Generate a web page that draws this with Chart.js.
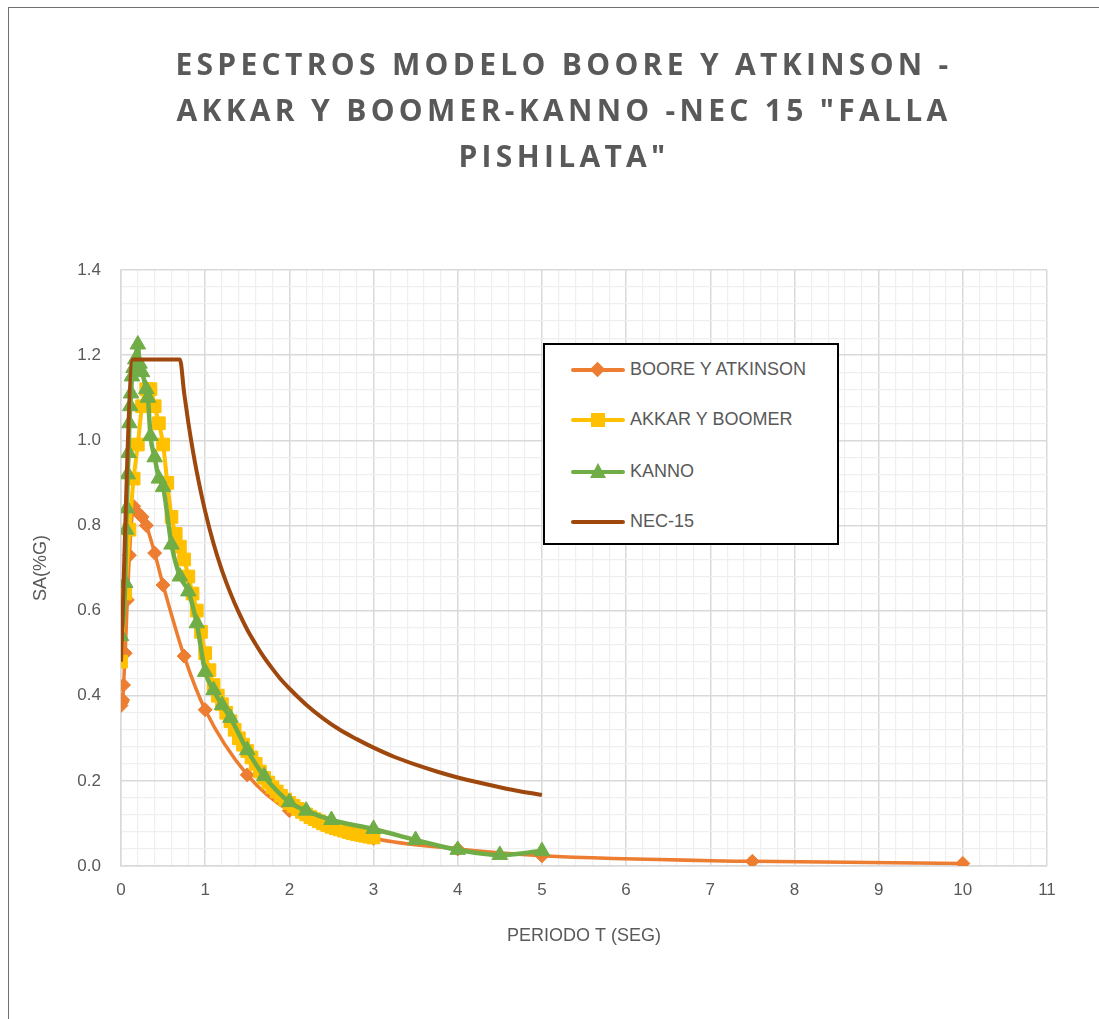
<!DOCTYPE html>
<html>
<head>
<meta charset="utf-8">
<title>Espectros Falla Pishilata</title>
<script src="https://cdn.jsdelivr.net/npm/chart.js@4.4.0/dist/chart.umd.min.js"></script>
<style>
  body { margin: 0; background: #fff; }
  #wrap { position: relative; width: 1099px; height: 1019px; overflow: hidden; }
  #frame { position: absolute; left: 8px; top: 7px; width: 1200px; height: 1100px;
           border-left: 1px solid #6f6f6f; border-top: 1px solid #6f6f6f; }
  #chart { position: absolute; left: 0; top: 0; }
  #title { position: absolute; left: 160px; width: 800px; top: 41px; text-align: center;
           font-family: "Open Sans", sans-serif; font-weight: bold; font-size: 30px;
           line-height: 46px; letter-spacing: 4.3px; color: #595959; padding-left: 4px; }
  #legend { position: absolute; left: 543px; top: 343px; width: 292px; height: 198px;
            border: 2px solid #000; background: #fff; }
  .item { position: absolute; left: 26px; height: 20px; }
  .item .ln { position: absolute; left: 0; top: 8px; width: 54px; height: 4px; border-radius: 2px; }
  .item .mk { position: absolute; }
  .item .tx { position: absolute; left: 59px; top: -1px; white-space: nowrap;
              font-family: "Liberation Sans", Arial, sans-serif; font-size: 18px; color: #595959; }
</style>
</head>
<body>
<div id="wrap">
  <div id="frame"></div>
  <canvas id="chart" width="1099" height="1019"></canvas>
  <div id="title">ESPECTROS MODELO BOORE Y ATKINSON -<br>AKKAR Y BOOMER-KANNO -NEC 15 "FALLA<br>PISHILATA"</div>
  <div id="legend"></div>
</div>
<script>
// Boore y Atkinson
const baPeriod = [0, 0.01, 0.02, 0.03, 0.05, 0.075, 0.1, 0.15, 0.2, 0.25, 0.3, 0.4, 0.5, 0.75, 1, 1.5, 2, 3, 4, 5, 7.5, 10];
const baSa = [0.377, 0.385, 0.39, 0.425, 0.50, 0.625, 0.73, 0.845, 0.83, 0.82, 0.80, 0.735, 0.66, 0.493, 0.367, 0.214, 0.13, 0.065, 0.04, 0.024, 0.011, 0.006];

// Akkar y Boomer
const abPeriod = [0, 0.05, 0.1, 0.15, 0.2, 0.25, 0.3, 0.35, 0.4, 0.45, 0.5, 0.55, 0.6, 0.65, 0.7, 0.75, 0.8, 0.85, 0.9, 0.95,
  1, 1.05, 1.1, 1.15, 1.2, 1.25, 1.3, 1.35, 1.4, 1.45, 1.5, 1.55, 1.6, 1.65, 1.7, 1.75, 1.8, 1.85, 1.9, 1.95,
  2, 2.05, 2.1, 2.15, 2.2, 2.25, 2.3, 2.35, 2.4, 2.45, 2.5, 2.55, 2.6, 2.65, 2.7, 2.75, 2.8, 2.85, 2.9, 2.95, 3];
const abSa = [0.48, 0.64, 0.79, 0.91, 0.99, 1.08, 1.12, 1.12, 1.08, 1.04, 0.99, 0.90, 0.82, 0.78, 0.75, 0.72, 0.68, 0.64, 0.60, 0.55,
  0.50, 0.46, 0.425, 0.40, 0.38, 0.36, 0.34, 0.32, 0.30, 0.285, 0.27, 0.255, 0.24, 0.222, 0.207, 0.196, 0.185, 0.175, 0.165, 0.156,
  0.148, 0.141, 0.134, 0.127, 0.121, 0.115, 0.110, 0.105, 0.100, 0.096, 0.092, 0.089, 0.086, 0.083, 0.080, 0.077, 0.075, 0.073, 0.071, 0.069, 0.067];

// Kanno
const kanPeriod = [0, 0.05, 0.06, 0.07, 0.08, 0.09, 0.1, 0.11, 0.12, 0.13, 0.15, 0.17, 0.2, 0.22, 0.25, 0.3, 0.32, 0.35, 0.4, 0.45,
  0.5, 0.6, 0.7, 0.8, 0.9, 1, 1.1, 1.2, 1.3, 1.5, 1.7, 2, 2.2, 2.5, 3, 3.5, 4, 4.5, 5];
const kanSa = [0.54, 0.665, 0.79, 0.84, 0.92, 0.97, 1.04, 1.08, 1.11, 1.15, 1.17, 1.19, 1.225, 1.18, 1.16, 1.12, 1.10, 1.01, 0.96, 0.91,
  0.89, 0.755, 0.68, 0.645, 0.57, 0.456, 0.413, 0.378, 0.348, 0.272, 0.211, 0.150, 0.13, 0.108, 0.087, 0.061, 0.038, 0.026, 0.035];

// NEC-15
const necPeriod = [0, 0.14, 0.7, 0.75, 0.8, 0.85, 0.9, 1, 1.1, 1.2, 1.3, 1.4, 1.5, 1.6, 1.7, 1.8, 1.9, 2, 2.2, 2.4, 2.6, 2.8,
  3, 3.25, 3.5, 3.75, 4, 4.25, 4.5, 4.75, 5];
const necSa = [0.48, 1.19, 1.19, 1.111, 1.041, 0.98, 0.926, 0.833, 0.757, 0.694, 0.641, 0.595, 0.555, 0.521, 0.49, 0.463, 0.438, 0.417,
  0.379, 0.347, 0.32, 0.298, 0.278, 0.256, 0.238, 0.222, 0.208, 0.196, 0.185, 0.175, 0.167];

const seriesNames = ['BOORE Y ATKINSON', 'AKKAR Y BOOMER', 'KANNO', 'NEC-15'];
const seriesColors = ['#ED7D31', '#FFC000', '#70AD47', '#9E480E'];

const xMax = 11;
const yMax = 1.4;
const textGray = '#595959';

function toPoints(xs, ys) {
  return xs.map((x, i) => ({ x: x, y: ys[i] }));
}

function isMajorX(v) { return Math.abs(v - Math.round(v)) < 1e-6; }
function isMajorY(v) { return Math.abs(v * 5 - Math.round(v * 5)) < 1e-6; }

const datasets = [
  { label: seriesNames[0], data: toPoints(baPeriod, baSa), borderColor: seriesColors[0], backgroundColor: seriesColors[0],
    borderWidth: 3.5, pointStyle: 'rectRot', pointRadius: 7, order: 3 },
  { label: seriesNames[1], data: toPoints(abPeriod, abSa), borderColor: seriesColors[1], backgroundColor: seriesColors[1],
    borderWidth: 4, pointStyle: 'rect', pointRadius: 9, order: 2 },
  { label: seriesNames[2], data: toPoints(kanPeriod, kanSa), borderColor: seriesColors[2], backgroundColor: seriesColors[2],
    borderWidth: 4.5, pointStyle: 'triangle', pointRadius: 9, order: 1 },
  { label: seriesNames[3], data: toPoints(necPeriod, necSa), borderColor: seriesColors[3], backgroundColor: seriesColors[3],
    borderWidth: 4, pointRadius: 0, order: 0 }
];
datasets.forEach(d => {
  d.fill = false;
  d.cubicInterpolationMode = 'monotone';
  d.pointBorderWidth = 1;
  d.pointHoverRadius = d.pointRadius;
});

const tickFont = { family: '"Liberation Sans", Arial, sans-serif', size: 17 };
const titleFont = { family: '"Liberation Sans", Arial, sans-serif', size: 18 };

new Chart(document.getElementById('chart'), {
  type: 'line',
  data: { datasets: datasets },
  options: {
    responsive: false,
    animation: false,
    devicePixelRatio: 1,
    layout: { padding: { left: 0, top: 270, right: 52, bottom: 53 } },
    plugins: { legend: { display: false }, title: { display: false }, tooltip: { enabled: false } },
    scales: {
      x: {
        type: 'linear', min: 0, max: xMax,
        ticks: {
          stepSize: 0.2, autoSkip: false, maxRotation: 0, padding: 14,
          font: tickFont, color: textGray,
          callback: v => isMajorX(v) ? String(Math.round(v)) : ''
        },
        grid: {
          drawTicks: false,
          color: c => (c.tick && isMajorX(c.tick.value)) ? '#d9d9d9' : '#efefef',
          lineWidth: c => (c.tick && isMajorX(c.tick.value)) ? 1.5 : 1.2
        },
        border: { color: '#d9d9d9', width: 1.5 },
        title: { display: true, text: 'PERIODO T (SEG)', font: titleFont, color: textGray, padding: { top: 0, bottom: 19 } },
        afterFit: s => { s.height = 100; }
      },
      y: {
        type: 'linear', min: 0, max: yMax,
        ticks: {
          stepSize: 0.04, autoSkip: false, padding: 20,
          font: tickFont, color: textGray,
          callback: v => isMajorY(v) ? v.toFixed(1) : ''
        },
        grid: {
          drawTicks: false,
          color: c => (c.tick && isMajorY(c.tick.value)) ? '#d9d9d9' : '#efefef',
          lineWidth: c => (c.tick && isMajorY(c.tick.value)) ? 1.5 : 1.2
        },
        border: { color: '#d9d9d9', width: 1.5 },
        title: { display: true, text: 'SA(%G)', font: titleFont, color: textGray, padding: { top: 30, bottom: 0 } },
        afterFit: s => { s.width = 121; }
      }
    }
  }
});

// legend drawn as html inside a box on the plot
const legend = document.getElementById('legend');
const rowTops = [15, 65, 117, 167];
const markerHtml = [
  '<div class="mk" style="left:21px;top:4px;width:11px;height:11px;background:' + seriesColors[0] + ';transform:rotate(45deg)"></div>',
  '<div class="mk" style="left:20px;top:3px;width:14px;height:14px;background:' + seriesColors[1] + '"></div>',
  '<div class="mk" style="left:19px;top:1px;width:0;height:0;border-left:8px solid transparent;border-right:8px solid transparent;border-bottom:15px solid ' + seriesColors[2] + '"></div>',
  ''
];
seriesNames.forEach((name, i) => {
  const item = document.createElement('div');
  item.className = 'item';
  item.style.top = rowTops[i] + 'px';
  item.innerHTML = '<div class="ln" style="background:' + seriesColors[i] + '"></div>' + markerHtml[i] +
    '<div class="tx">' + name + '</div>';
  legend.appendChild(item);
});
</script>
</body>
</html>
